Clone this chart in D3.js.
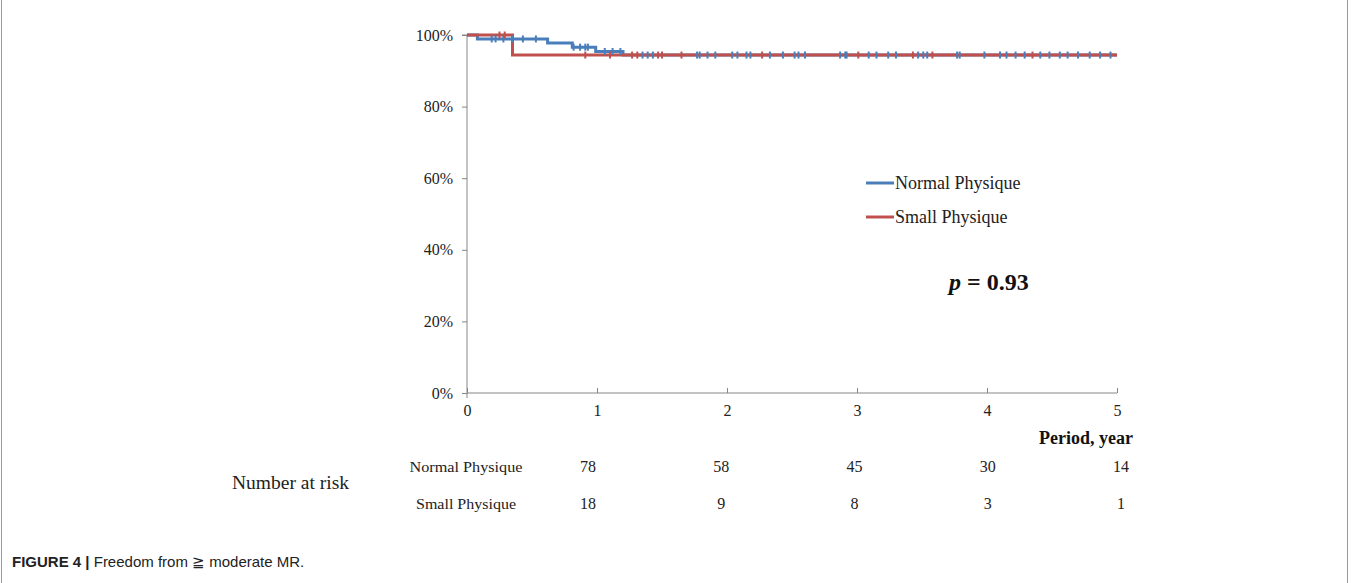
<!DOCTYPE html>
<html><head><meta charset="utf-8">
<script src="https://cdn.jsdelivr.net/npm/d3@7"></script>
<style>
html,body{margin:0;padding:0;background:#fff;}
svg{display:block;}
</style></head>
<body>
<svg id="chart" width="1358" height="583"></svg>
<script>
// ---- Data ----
const yTicks = [0, 0.2, 0.4, 0.6, 0.8, 1.0];
const xTicks = [0, 1, 2, 3, 4, 5];
// Kaplan-Meier step points: [time, survival]
const normalSteps = [[0,1.0],[0.08,0.989],[0.62,0.978],[0.81,0.966],[0.99,0.954],[1.2,0.944],[5,0.944]];
const smallSteps = [[0,1.0],[0.35,0.944],[5,0.944]];
// censoring times
const normalCensor = [0.19,0.22,0.28,0.35,0.43,0.53,0.82,0.87,0.91,0.93,1.06,1.12,1.18,1.35,1.39,1.43,
  1.77,1.79,1.85,1.91,2.04,2.08,2.15,2.18,2.33,2.43,2.52,2.55,2.6,2.87,2.91,2.92,3.09,3.15,3.24,3.3,
  3.47,3.51,3.54,3.77,3.79,3.98,4.1,4.15,4.22,4.29,4.41,4.48,4.56,4.62,4.7,4.79,4.87,4.95];
const smallCensor = [0.25,0.29,0.91,1.1,1.27,1.31,1.47,1.5,1.65,2.27,3.01,3.43,3.58,4.35];
const seriesNames = ["Normal Physique", "Small Physique"];
const riskTimes = [1, 2, 3, 4, 5];
const riskNormal = [78, 58, 45, 30, 14];
const riskSmall = [18, 9, 8, 3, 1];
const pText = "0.93";

// ---- Layout ----
const svg = d3.select("#chart");
const serif = "'Liberation Serif','Times New Roman',serif";
const blue = "#4a7ebb", red = "#c0504d", axisCol = "#868686";
const x = d3.scaleLinear().domain([0,5]).range([467,1117]);
const y = d3.scaleLinear().domain([0,1]).range([393,35]);

// frame
svg.append("line").attr("x1",1.5).attr("x2",1.5).attr("y1",0).attr("y2",583).attr("stroke","#999").attr("stroke-width",1);
svg.append("line").attr("x1",1347.5).attr("x2",1347.5).attr("y1",0).attr("y2",583).attr("stroke","#999").attr("stroke-width",1);

// y axis
const yAxis = d3.axisLeft(y).tickValues(yTicks).tickFormat(d3.format(".0%")).tickSize(5).tickPadding(9);
const gy = svg.append("g").attr("transform",`translate(${x(0)},0)`).call(yAxis);
gy.select(".domain").attr("stroke",axisCol).attr("d",`M-5,${y(1)}H0V${y(0)+5}`);
gy.selectAll(".tick line").attr("stroke",axisCol);
gy.selectAll(".tick text").attr("font-family",serif).attr("font-size",16).attr("fill","#222");

// x axis
const xAxis = d3.axisBottom(x).tickValues(xTicks).tickFormat(d3.format("d")).tickSize(-5).tickPadding(12);
const gx = svg.append("g").attr("transform",`translate(0,${y(0)})`).call(xAxis);
gx.select(".domain").attr("stroke",axisCol).attr("d",`M${x(0)},0H${x(5)}`);
gx.selectAll(".tick line").attr("stroke",axisCol);
gx.selectAll(".tick text").attr("font-family",serif).attr("font-size",16).attr("fill","#222");

svg.append("text").attr("x",1133).attr("y",444).attr("text-anchor","end")
  .attr("font-family",serif).attr("font-size",18).attr("font-weight","bold").attr("fill","#111")
  .text("Period, year");

// curves
const line = d3.line().x(d=>x(d[0])).y(d=>y(d[1])).curve(d3.curveStepAfter);
svg.append("path").datum(normalSteps).attr("d",line).attr("fill","none").attr("stroke",blue).attr("stroke-width",3);
svg.append("path").datum(smallSteps).attr("d",line).attr("fill","none").attr("stroke",red).attr("stroke-width",3);

function survAt(steps,t){let v=steps[0][1];for(const s of steps){if(s[0]<=t)v=s[1];}return v;}
function censor(times,steps,col){
  svg.append("g").selectAll("line").data(times).join("line")
    .attr("x1",d=>x(d)).attr("x2",d=>x(d))
    .attr("y1",d=>y(survAt(steps,d))-3.5).attr("y2",d=>y(survAt(steps,d))+3.5)
    .attr("stroke",col).attr("stroke-width",2);
}
censor(normalCensor,normalSteps,blue);
censor(smallCensor,smallSteps,red);

// legend
const legend = svg.append("g");
[[blue,183],[red,217]].forEach(([c,yy],i)=>{
  legend.append("line").attr("x1",866).attr("x2",894).attr("y1",yy).attr("y2",yy).attr("stroke",c).attr("stroke-width",3);
  legend.append("text").attr("x",895).attr("y",yy+6).attr("font-family",serif).attr("font-size",18).attr("fill","#222").text(seriesNames[i]);
});

// p value
const pt = svg.append("text").attr("x",949).attr("y",290).attr("font-family",serif).attr("font-size",24).attr("font-weight","bold").attr("fill","#111");
pt.append("tspan").attr("font-style","italic").text("p");
pt.append("tspan").text(" = " + pText);

// number at risk table
const rx = d3.scaleLinear().domain([1,5]).range([588,1121]);
svg.append("text").attr("x",232).attr("y",489).attr("font-family",serif).attr("font-size",19.5).attr("fill","#222").text("Number at risk");
svg.append("text").attr("x",466).attr("y",472).attr("text-anchor","middle").attr("font-family",serif).attr("font-size",15.5).attr("fill","#222")
  .attr("textLength",113).attr("lengthAdjust","spacingAndGlyphs").text(seriesNames[0]);
svg.append("text").attr("x",466).attr("y",509).attr("text-anchor","middle").attr("font-family",serif).attr("font-size",15.5).attr("fill","#222")
  .attr("textLength",100).attr("lengthAdjust","spacingAndGlyphs").text(seriesNames[1]);
svg.append("g").selectAll("text").data(riskTimes).join("text")
  .attr("x",d=>rx(d)).attr("y",472).attr("text-anchor","middle").attr("font-family",serif).attr("font-size",16).attr("fill","#222")
  .text((d,i)=>riskNormal[i]);
svg.append("g").selectAll("text").data(riskTimes).join("text")
  .attr("x",d=>rx(d)).attr("y",509).attr("text-anchor","middle").attr("font-family",serif).attr("font-size",16).attr("fill","#222")
  .text((d,i)=>riskSmall[i]);

// caption
const cap = svg.append("text").attr("x",12).attr("y",567).attr("font-family","'Liberation Sans',Arial,sans-serif").attr("font-size",15).attr("fill","#222");
cap.append("tspan").attr("font-weight","bold").text("FIGURE 4 |");
cap.append("tspan").text(" Freedom from \u2267 moderate MR.");
</script>
</body></html>
